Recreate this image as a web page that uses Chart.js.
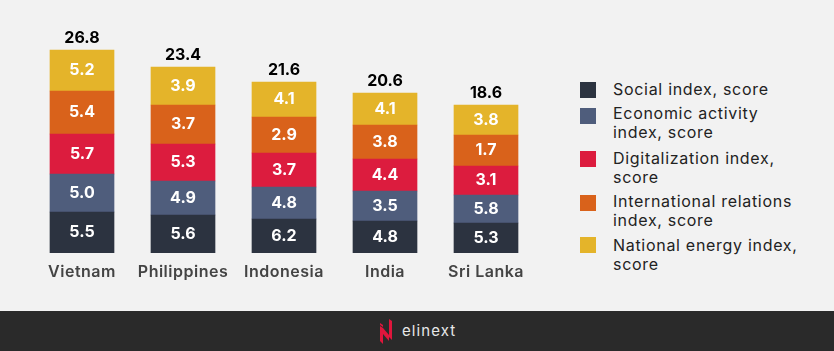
<!DOCTYPE html>
<html>
<head>
<meta charset="utf-8">
<title>Index scores</title>
<script src="https://cdn.jsdelivr.net/npm/chart.js@4"></script>
<style>
  html, body { margin: 0; padding: 0; }
  body { width: 834px; height: 351px; background: #f2f2f2; overflow: hidden; position: relative; font-family: Inter, sans-serif; }
  #chart { position: absolute; left: 0; top: 0; }
  .legend-box { position: absolute; left: 580px; width: 16px; height: 16px; }
  .legend-text { position: absolute; left: 613px; white-space: pre; font-size: 16px; line-height: 19px; color: #222; letter-spacing: 0.7px; }
  #footer { position: absolute; left: 0; top: 311px; width: 834px; height: 40px; background: #2a2a2a; }
  #footer svg { position: absolute; left: 380px; top: 8px; }
  #footer span { position: absolute; left: 402px; top: 11px; font-size: 15px; line-height: 18px; letter-spacing: 1.1px; color: #e8e8e8; }
</style>
</head>
<body>
<canvas id="chart" width="560" height="311"></canvas>
<div id="legend"></div>
<div id="footer">
  <svg width="12" height="25" viewBox="0 0 12 25">
    <polygon points="0,7 3,9 3,25 0,22" fill="#e0163c"/>
    <polygon points="0,4 3,6 3,8 0,6" fill="#e0163c"/>
    <polygon points="3,9 9,16 9,22 3,15" fill="#e0163c"/>
    <polygon points="9,0 12,2 12,21 9,18" fill="#e0163c"/>
  </svg>
  <span>elinext</span>
</div>
<script>
const categories = ["Vietnam", "Philippines", "Indonesia", "India", "Sri Lanka"];
const seriesNames = [
  "Social index, score",
  "Economic activity\nindex, score",
  "Digitalization index,\nscore",
  "International relations\nindex, score",
  "National energy index,\nscore",
];
const COLORS = ["#2c3340", "#4f5d7c", "#dc1c3e", "#d9621b", "#e4b42a"];

// printed scores
const socialScores = ["5.5", "5.6", "6.2", "4.8", "5.3"];
const economicScores = ["5.0", "4.9", "4.8", "3.5", "5.8"];
const digitalScores = ["5.7", "5.3", "3.7", "4.4", "3.1"];
const relationsScores = ["5.4", "3.7", "2.9", "3.8", "1.7"];
const energyScores = ["5.2", "3.9", "4.1", "4.1", "3.8"];
const totals = ["26.8", "23.4", "21.6", "20.6", "18.6"];

// the segments in the picture are not to scale with the printed scores,
// so the drawn heights are read off the picture on their own
const socialHeights = [41, 38, 34, 32, 30];
const economicHeights = [38, 34, 32, 30, 28];
const digitalHeights = [40, 37, 34, 32, 29];
const relationsHeights = [43, 39, 36, 34, 31];
const energyHeights = [41, 38, 35, 32, 30];

const legendBoxTops = [82, 108, 151, 195, 237];
const legendTextTops = [80, 104, 149, 192, 236];

const heights = [socialHeights, economicHeights, digitalHeights, relationsHeights, energyHeights];
const scores = [socialScores, economicScores, digitalScores, relationsScores, energyScores];

const barLabels = {
  id: "barLabels",
  beforeDraw(chart) {
    chart.ctx.letterSpacing = "0.5px"; // for the tick labels
  },
  afterDatasetsDraw(chart) {
    const c = chart.ctx;
    c.save();
    c.letterSpacing = "0px";
    c.textAlign = "center";
    c.textBaseline = "middle";
    chart.data.datasets.forEach((ds, i) => {
      chart.getDatasetMeta(i).data.forEach((bar, j) => {
        c.fillStyle = "#ffffff";
        c.font = "700 16px Inter, sans-serif";
        c.fillText(scores[i][j], bar.x, (bar.y + bar.base) / 2);
        if (i == scores.length - 1) {
          c.fillStyle = "#000000";
          c.fillText(totals[j], bar.x, bar.y - 12);
        }
      });
    });
    c.restore();
  },
};

new Chart(document.getElementById("chart"), {
  type: "bar",
  data: {
    labels: categories,
    datasets: heights.map((h, i) => ({
      label: seriesNames[i].replace("\n", " "),
      data: h,
      backgroundColor: COLORS[i],
      borderWidth: 0,
      barThickness: 64,
    })),
  },
  options: {
    responsive: false,
    animation: false,
    layout: { padding: { left: 31.5, right: 23.5, top: 20, bottom: 0 } },
    plugins: { legend: { display: false }, tooltip: { enabled: false } },
    scales: {
      x: {
        stacked: true,
        grid: { display: false },
        border: { display: false },
        afterFit: (scale) => { scale.height = 58; },
        ticks: {
          padding: 2,
          maxRotation: 0,
          color: "#444444",
          font: { family: "Inter, sans-serif", size: 16, weight: "600" },
        },
      },
      y: { stacked: true, display: false, min: 0, max: 233 },
    },
  },
  plugins: [barLabels],
});

// legend on the right
const legend = document.getElementById("legend");
seriesNames.forEach((name, i) => {
  const box = document.createElement("div");
  box.className = "legend-box";
  box.style.top = legendBoxTops[i] + "px";
  box.style.background = COLORS[i];
  const text = document.createElement("div");
  text.className = "legend-text";
  text.style.top = legendTextTops[i] + "px";
  text.textContent = name;
  legend.appendChild(box);
  legend.appendChild(text);
});
</script>
</body>
</html>
